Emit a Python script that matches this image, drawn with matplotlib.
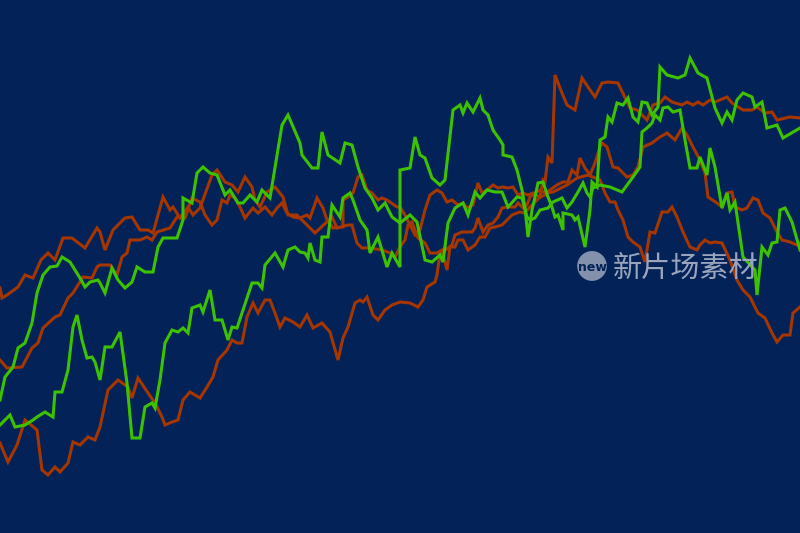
import matplotlib
matplotlib.use("Agg")
import matplotlib.pyplot as plt
from matplotlib.patches import Ellipse

# time index (x) and level (y, read top-down from the picture) for each series
red_a_x = [0, 2, 7, 18, 25, 33, 41, 48, 55, 63, 72, 85, 97, 100, 105, 113, 125, 132, 140, 148, 153, 163, 170, 173,
           180, 188, 193, 200, 212, 217, 225, 232, 238, 245, 252, 255, 260, 267, 275, 283, 288, 297, 300, 307, 310,
           317, 323, 327, 333, 343, 343, 348, 353, 358, 362, 367, 372, 378, 382, 387, 397, 400, 405, 410, 415, 420,
           425, 430, 437, 442, 447, 452, 458, 463, 467, 473, 478, 482, 487, 493, 498, 503, 508, 513, 518, 523, 528,
           533, 540, 543, 545, 548, 552, 555, 562, 567, 575, 582, 588, 595, 602, 608, 618, 630, 637, 647, 653, 660,
           665, 672, 682, 687, 693, 698, 703, 710, 715, 727, 732, 743, 752, 757, 765, 772, 777, 790, 800]
red_a_y = [288, 298, 295, 287, 275, 278, 260, 253, 260, 238, 238, 248, 228, 232, 250, 230, 218, 217, 230, 230, 233,
           197, 210, 207, 218, 207, 215, 208, 175, 170, 182, 185, 192, 177, 187, 200, 207, 192, 187, 197, 215, 215,
           218, 215, 218, 198, 208, 220, 228, 227, 200, 197, 193, 177, 175, 190, 193, 200, 198, 200, 207, 207, 215,
           225, 235, 230, 210, 195, 190, 193, 202, 200, 205, 203, 208, 205, 183, 193, 190, 185, 188, 187, 188, 187,
           195, 193, 195, 193, 197, 180, 182, 157, 163, 75, 93, 105, 110, 78, 87, 97, 83, 82, 83, 108, 110, 120, 105,
           103, 97, 102, 105, 102, 105, 102, 105, 100, 102, 97, 103, 110, 110, 107, 113, 112, 120, 117, 118]

red_b_x = [0, 7, 22, 32, 38, 43, 55, 60, 68, 73, 83, 92, 97, 100, 110, 117, 122, 127, 130, 140, 147, 152, 157, 170,
           177, 185, 192, 200, 205, 212, 217, 222, 227, 230, 235, 240, 245, 253, 258, 265, 272, 277, 282, 287, 293,
           300, 315, 332, 337, 348, 352, 357, 362, 370, 382, 390, 395, 400, 405, 408, 412, 418, 425, 430, 437, 442,
           447, 450, 455, 458, 463, 468, 475, 480, 485, 490, 495, 502, 507, 512, 517, 520, 525, 530, 535, 540, 545,
           550, 557, 563, 568, 572, 577, 580, 585, 590, 595, 600, 602, 607, 613, 618, 627, 633, 638, 643, 652, 660,
           667, 675, 682, 687, 693, 700, 705, 708, 717, 722, 727, 732, 735, 742, 747, 753, 758, 763, 770, 777, 782,
           790, 797, 800]
red_b_y = [360, 368, 367, 348, 343, 328, 317, 315, 298, 293, 277, 278, 267, 265, 265, 275, 257, 253, 240, 240, 237,
           240, 232, 228, 217, 218, 198, 202, 215, 225, 220, 200, 203, 195, 198, 207, 218, 208, 213, 207, 215, 208,
           203, 213, 217, 218, 233, 217, 228, 225, 225, 243, 248, 248, 250, 253, 257, 247, 240, 225, 222, 238, 243,
           253, 253, 250, 270, 247, 247, 240, 240, 250, 245, 237, 237, 228, 227, 225, 220, 215, 213, 212, 213, 207,
           202, 197, 195, 190, 185, 182, 182, 170, 175, 158, 168, 175, 163, 147, 143, 147, 167, 168, 177, 175, 167,
           147, 143, 137, 133, 140, 128, 135, 147, 160, 173, 197, 203, 207, 193, 192, 207, 210, 208, 198, 200, 213,
           218, 232, 240, 242, 245, 243]

red_c_x = [0, 8, 17, 25, 37, 42, 48, 55, 60, 68, 73, 80, 88, 95, 100, 108, 118, 128, 132, 138, 148, 155, 162, 165,
           172, 178, 183, 190, 200, 207, 213, 218, 227, 232, 237, 242, 247, 253, 258, 265, 270, 275, 280, 285, 293,
           300, 307, 313, 322, 330, 338, 343, 348, 355, 360, 363, 367, 373, 378, 385, 392, 400, 410, 418, 423, 427,
           435, 437, 440, 443, 452, 455, 462, 472, 475, 478, 483, 488, 493, 498, 502, 507, 515, 518, 523, 527, 530,
           535, 540, 545, 553, 567, 577, 588, 600, 605, 610, 615, 618, 623, 628, 633, 640, 645, 650, 655, 662, 668,
           672, 677, 683, 690, 697, 700, 705, 710, 715, 722, 730, 737, 743, 750, 758, 765, 772, 777, 783, 790, 793,
           800]
red_c_y = [443, 462, 445, 420, 430, 470, 475, 467, 472, 463, 442, 445, 437, 440, 427, 390, 380, 387, 398, 378, 393,
           403, 417, 425, 422, 420, 400, 392, 398, 387, 377, 360, 350, 340, 343, 343, 317, 303, 313, 300, 300, 313,
           327, 318, 322, 327, 315, 328, 323, 332, 360, 338, 327, 303, 300, 302, 297, 315, 320, 310, 305, 302, 303,
           307, 300, 287, 282, 275, 253, 252, 245, 235, 232, 232, 228, 218, 232, 225, 223, 217, 208, 207, 207, 203,
           208, 205, 197, 193, 190, 193, 192, 185, 178, 175, 180, 193, 202, 202, 210, 220, 237, 242, 247, 262, 232,
           233, 212, 212, 207, 217, 232, 247, 250, 245, 240, 243, 242, 243, 260, 280, 290, 297, 313, 318, 333, 342,
           335, 335, 313, 307]

green_a_x = [0, 5, 13, 18, 25, 32, 37, 43, 50, 57, 62, 70, 80, 85, 90, 98, 100, 105, 112, 118, 125, 132, 137, 145,
             153, 158, 163, 177, 183, 183, 192, 197, 200, 203, 210, 217, 225, 230, 238, 243, 250, 257, 262, 270, 282,
             288, 300, 302, 312, 318, 322, 328, 340, 345, 352, 358, 365, 372, 378, 385, 392, 400, 410, 417, 425, 432,
             440, 443, 448, 455, 463, 468, 475, 480, 487, 495, 502, 508, 517, 522, 527, 530, 535, 540, 548, 553, 562,
             567, 572, 578, 583, 587, 590, 593, 600, 610, 622, 633, 640, 642, 647, 652, 655, 660, 663, 668, 673, 680,
             685, 690, 697, 700, 707, 710, 715, 722, 727, 730, 735, 743, 755, 757, 762, 768, 772, 777, 780, 785, 792,
             800]
green_a_y = [400, 377, 367, 348, 343, 323, 293, 275, 267, 266, 257, 262, 278, 287, 282, 280, 283, 293, 268, 280, 288,
             282, 267, 272, 272, 247, 238, 238, 220, 198, 203, 173, 170, 167, 173, 175, 195, 190, 203, 203, 195, 202,
             190, 198, 125, 115, 143, 155, 168, 168, 132, 155, 163, 143, 145, 167, 188, 198, 210, 203, 217, 223, 215,
             222, 260, 262, 255, 262, 223, 208, 203, 215, 192, 198, 190, 192, 192, 207, 197, 198, 217, 220, 218, 210,
             208, 202, 198, 208, 202, 192, 183, 193, 197, 188, 185, 187, 192, 177, 167, 132, 128, 123, 115, 120, 108,
             107, 112, 110, 140, 168, 168, 157, 175, 148, 167, 208, 193, 210, 202, 257, 270, 295, 247, 255, 243, 242,
             210, 208, 222, 250]

green_b_x = [0, 10, 15, 25, 33, 37, 45, 53, 55, 62, 68, 73, 77, 82, 87, 92, 95, 100, 105, 112, 120, 127, 132, 140,
             145, 152, 155, 160, 165, 172, 178, 183, 188, 192, 200, 203, 210, 215, 222, 228, 232, 237, 252, 258, 262,
             265, 275, 283, 288, 295, 300, 305, 308, 310, 315, 320, 322, 328, 332, 340, 343, 350, 353, 360, 367, 370,
             378, 387, 392, 400, 400, 410, 415, 420, 425, 432, 440, 445, 453, 460, 463, 467, 473, 480, 483, 488, 493,
             500, 503, 503, 512, 517, 522, 525, 528, 532, 535, 538, 543, 548, 552, 555, 558, 563, 563, 572, 575, 578,
             585, 590, 592, 597, 600, 605, 608, 612, 617, 623, 628, 633, 638, 642, 647, 652, 658, 660, 667, 678, 685,
             690, 698, 707, 715, 722, 727, 732, 737, 743, 752, 755, 762, 767, 777, 783, 800]
green_b_y = [425, 415, 427, 425, 420, 417, 412, 417, 392, 392, 370, 327, 315, 340, 358, 357, 362, 380, 347, 347, 332,
             383, 438, 438, 407, 403, 408, 380, 343, 330, 332, 328, 333, 308, 305, 312, 290, 320, 320, 340, 327, 328,
             283, 283, 288, 265, 253, 267, 250, 247, 252, 253, 258, 243, 260, 262, 237, 237, 205, 217, 198, 193, 200,
             220, 230, 253, 237, 267, 253, 267, 170, 168, 137, 155, 158, 178, 185, 180, 110, 105, 113, 103, 112, 98,
             110, 115, 130, 140, 145, 155, 157, 170, 190, 208, 237, 210, 197, 183, 182, 197, 207, 217, 215, 230, 213,
             215, 220, 217, 247, 210, 182, 187, 140, 137, 117, 122, 103, 105, 98, 117, 122, 102, 103, 115, 107, 67,
             75, 78, 75, 58, 73, 78, 108, 123, 112, 120, 100, 93, 97, 107, 102, 128, 125, 138, 128]

bg = "#022258"
red = "#a63600"
green = "#3cc200"

fig = plt.figure(figsize=(8, 5.33), dpi=100)
fig.patch.set_facecolor(bg)
ax = fig.add_axes([0, 0, 1, 1])
ax.set_facecolor(bg)

for xs, ys in [(red_a_x, red_a_y), (red_b_x, red_b_y), (red_c_x, red_c_y)]:
    ax.plot(xs, ys, color=red, lw=2.2, solid_joinstyle="miter")
for xs, ys in [(green_a_x, green_a_y), (green_b_x, green_b_y)]:
    ax.plot(xs, ys, color=green, lw=2.2, solid_joinstyle="miter")

ax.set_xlim(0, 800)
ax.set_ylim(533, 0)
ax.axis("off")

# watermark
badge = Ellipse((0.74, 0.501), 0.037, 0.056, transform=fig.transFigure,
                facecolor="#8c98b2", edgecolor="none", alpha=0.95)
fig.patches.append(badge)
fig.text(0.7405, 0.499, "new", color=bg, fontsize=9, fontweight="bold",
         ha="center", va="center", family="DejaVu Sans")
fig.text(0.766, 0.4955, "新片场素材", color="#9aa5bd", fontsize=21,
         ha="left", va="center", family=["Noto Sans CJK SC", "DejaVu Sans"])

fig.savefig("out.png", dpi=100, facecolor=bg)
